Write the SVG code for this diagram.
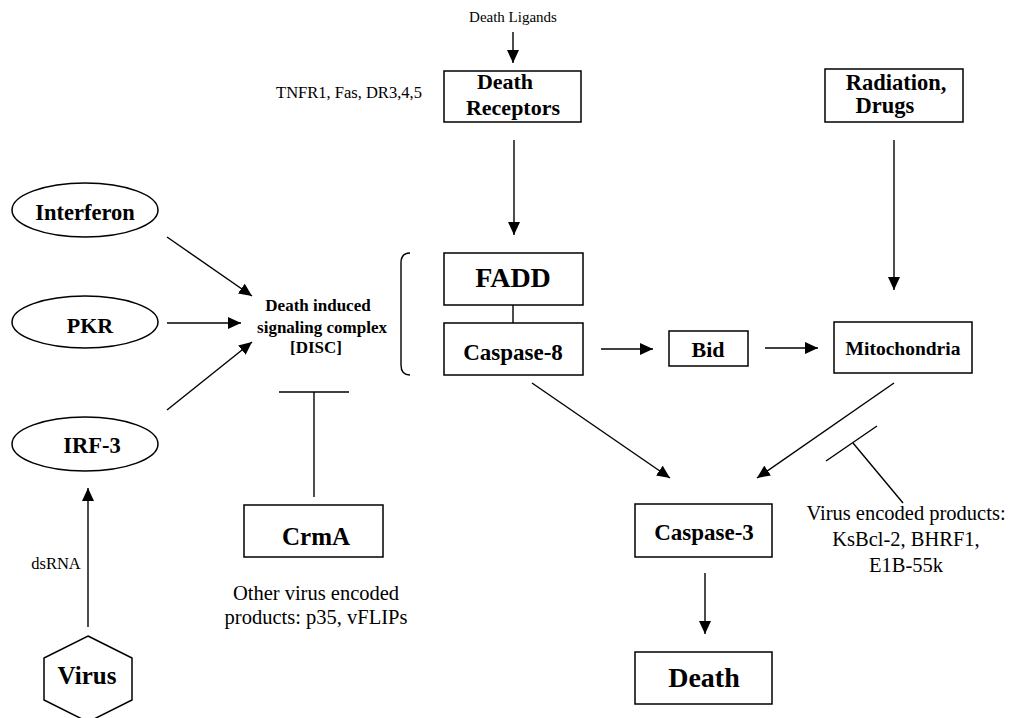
<svg xmlns="http://www.w3.org/2000/svg" width="1014" height="718" viewBox="0 0 1014 718">
<defs>
<marker id="ah" markerUnits="userSpaceOnUse" markerWidth="14" markerHeight="12" refX="13" refY="6" orient="auto">
<path d="M0,0 L13,6 L0,12 Z" fill="#000"/>
</marker>
<style>
.box{fill:#fff;stroke:#000;stroke-width:1.5}
.ln{fill:none;stroke:#000;stroke-width:1.4}
.arr{fill:none;stroke:#000;stroke-width:1.4;marker-end:url(#ah)}
.b{font-family:"Liberation Serif","Times New Roman",serif;font-weight:bold;fill:#000;text-anchor:middle}
.r{font-family:"Liberation Serif","Times New Roman",serif;fill:#000;text-anchor:middle}
</style>
</defs>
<rect width="1014" height="718" fill="#fff"/>

<g id="connectors">
<line class="arr" x1="513" y1="32" x2="513" y2="63"/>
<line class="arr" x1="514" y1="140" x2="514" y2="235"/>
<line class="arr" x1="894" y1="140" x2="894" y2="290"/>
<line class="ln" x1="513" y1="305" x2="513" y2="323"/>
<line class="arr" x1="601" y1="349" x2="653" y2="349"/>
<line class="arr" x1="765" y1="348" x2="818" y2="348"/>
<line class="arr" x1="532" y1="383" x2="670" y2="478"/>
<line class="arr" x1="894" y1="383" x2="757" y2="478"/>
<line class="arr" x1="705" y1="573" x2="705" y2="634"/>
<line class="arr" x1="167" y1="237" x2="252" y2="296"/>
<line class="arr" x1="167" y1="323" x2="241" y2="323"/>
<line class="arr" x1="167" y1="410" x2="252" y2="342"/>
<line class="arr" x1="88" y1="627" x2="88" y2="488"/>
<line class="ln" x1="279" y1="392" x2="349" y2="392"/>
<line class="ln" x1="314" y1="392" x2="314" y2="497"/>
<line class="ln" x1="826" y1="461" x2="877" y2="426"/>
<line class="ln" x1="853" y1="443" x2="903" y2="503"/>
<path class="ln" d="M410 253 Q401 253 401 263 L401 365 Q401 375 410 375"/>
</g>

<g id="death-ligands"><text class="r" x="513" y="22" font-size="15">Death Ligands</text></g>
<g id="receptor-names"><text class="r" x="349" y="98" font-size="16.5">TNFR1, Fas, DR3,4,5</text></g>

<g id="death-receptors">
<rect class="box" x="444" y="71" width="137" height="51"/>
<text class="b" x="505" y="89" font-size="22">Death</text>
<text class="b" x="513" y="115" font-size="22">Receptors</text>
</g>

<g id="radiation-drugs">
<rect class="box" x="825" y="69" width="138" height="53"/>
<text class="b" x="896" y="90" font-size="22.5">Radiation,</text>
<text class="b" x="885" y="113" font-size="22.5">Drugs</text>
</g>

<g id="fadd">
<rect class="box" x="444" y="253" width="139" height="52"/>
<text class="b" x="513" y="287" font-size="28">FADD</text>
</g>

<g id="caspase-8">
<rect class="box" x="444" y="323" width="139" height="52"/>
<text class="b" x="513" y="360" font-size="23">Caspase-8</text>
</g>

<g id="bid">
<rect class="box" x="669" y="331" width="79" height="35"/>
<text class="b" x="708" y="357" font-size="22">Bid</text>
</g>

<g id="mitochondria">
<rect class="box" x="834" y="322" width="138" height="51"/>
<text class="b" x="903" y="355" font-size="19.5">Mitochondria</text>
</g>

<g id="caspase-3">
<rect class="box" x="635" y="504" width="137" height="53"/>
<text class="b" x="704" y="540" font-size="23">Caspase-3</text>
</g>

<g id="death">
<rect class="box" x="635" y="652" width="137" height="52"/>
<text class="b" x="704" y="687" font-size="28">Death</text>
</g>

<g id="mito-inhibitors">
<text class="r" x="906" y="520" font-size="20.5">Virus encoded products:</text>
<text class="r" x="906" y="546" font-size="20.5">KsBcl-2, BHRF1,</text>
<text class="r" x="906" y="572" font-size="20.5">E1B-55k</text>
</g>

<g id="interferon">
<ellipse class="box" cx="85" cy="210" rx="73" ry="27"/>
<text class="b" x="85" y="220" font-size="22.5">Interferon</text>
</g>

<g id="pkr">
<ellipse class="box" cx="85" cy="322" rx="73" ry="26"/>
<text class="b" x="90" y="333" font-size="22">PKR</text>
</g>

<g id="irf-3">
<ellipse class="box" cx="85" cy="444" rx="73" ry="27"/>
<text class="b" x="92" y="453" font-size="22.5">IRF-3</text>
</g>

<g id="disc">
<text class="b" x="318" y="311" font-size="17">Death induced</text>
<text class="b" x="322" y="333" font-size="17">signaling complex</text>
<text class="b" x="316" y="353" font-size="17">[DISC]</text>
</g>

<g id="crma">
<rect class="box" x="244" y="505" width="139" height="52"/>
<text class="b" x="316" y="545" font-size="25">CrmA</text>
</g>

<g id="crma-others">
<text class="r" x="316" y="600" font-size="20.5">Other virus encoded</text>
<text class="r" x="316" y="624" font-size="20.5">products: p35, vFLIPs</text>
</g>

<g id="dsrna"><text class="r" x="56" y="569" font-size="16.5">dsRNA</text></g>

<g id="virus">
<polygon class="box" points="88,636 132,658 132,700 88,722 44,700 44,658"/>
<text class="b" x="87" y="684" font-size="25">Virus</text>
</g>
</svg>
